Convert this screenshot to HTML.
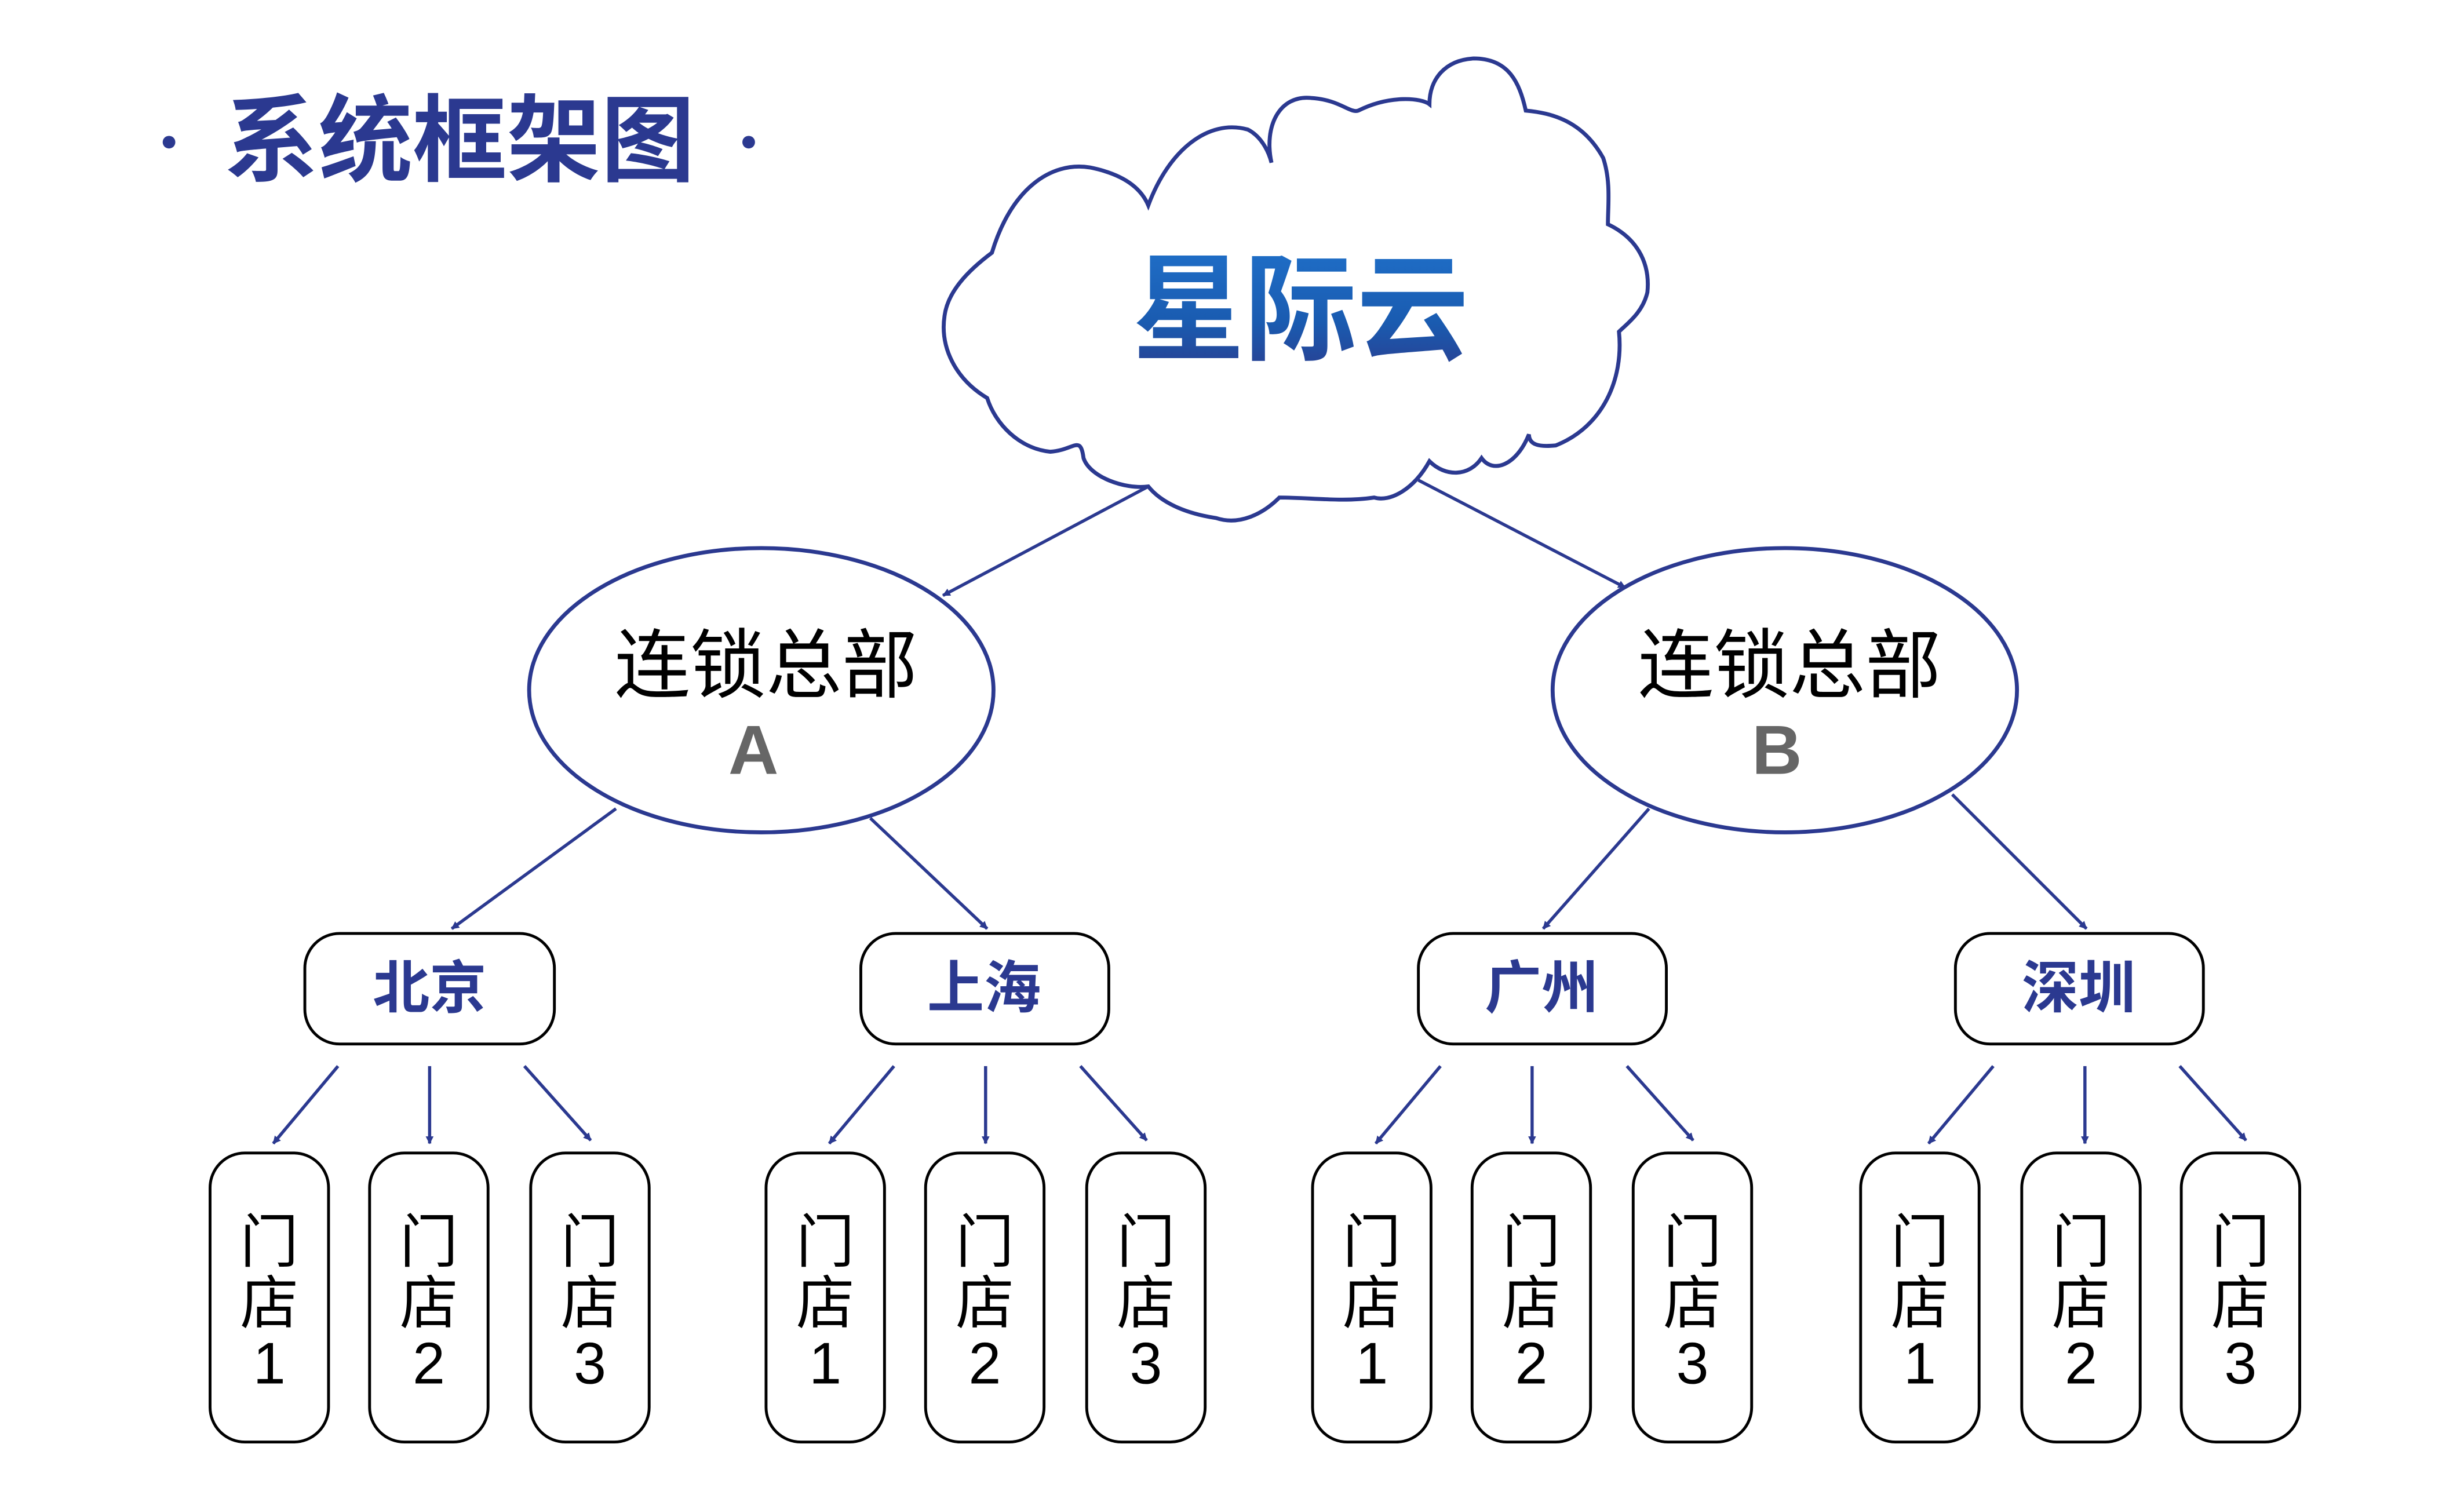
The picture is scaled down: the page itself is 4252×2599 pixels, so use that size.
<!DOCTYPE html>
<html><head><meta charset="utf-8"><style>
html,body{margin:0;padding:0;background:#fff;}
svg{display:block;}
</style></head><body>
<svg width="4252" height="2599" viewBox="0 0 1560 953.5" xmlns="http://www.w3.org/2000/svg">
<defs>
<marker id="ah" viewBox="0 0 10 10" refX="9" refY="5" markerWidth="5" markerHeight="5" orient="auto" markerUnits="userSpaceOnUse">
<path d="M0,0 L10,5 L0,10 z" fill="#2b3990"/>
</marker>
<linearGradient id="g" x1="0" y1="0" x2="0" y2="1">
<stop offset="0" stop-color="#1f6fc8"/><stop offset="0.6" stop-color="#1a5bb0"/><stop offset="1" stop-color="#2a3d8f"/>
</linearGradient>
</defs>
<g font-family="'Liberation Sans','Noto Sans CJK SC',sans-serif">
<circle cx="107" cy="90" r="4" fill="#2b3990"/>
<circle cx="474" cy="90" r="4" fill="#2b3990"/>
<text x="142" y="110" font-size="60" font-weight="bold" fill="#2b3990" textLength="298" lengthAdjust="spacingAndGlyphs">系统框架图</text>

<path d="M727,308 C712,310 690,302 686,290 C684,275 680,285 665,286 C645,284 630,268 625,252 C605,240 595,220 598,200 C600,185 612,172 628,160 C640,120 665,102 690,106 C710,110 722,118 727,130 C740,95 765,75 790,82 C798,86 803,95 805,103 C800,80 810,60 830,62 C848,63 855,72 860,70 C880,60 900,62 905,66 C905,50 915,38 933,37 C955,37 962,52 966,70 C990,72 1005,82 1015,100 C1020,115 1018,130 1018,142 C1035,150 1045,165 1043,185 C1040,198 1030,205 1025,210 C1028,240 1015,270 985,282 C975,283 968,282 968,275 C960,295 945,300 938,290 C930,302 915,302 905,292 C895,310 880,318 870,315 C850,318 830,315 810,315 C800,325 785,333 770,328 C750,325 735,318 727,308 Z" fill="#fff" stroke="#2b3990" stroke-width="2.5"/>
<text x="717" y="222" font-size="74" font-weight="bold" fill="url(#g)" textLength="213" lengthAdjust="spacingAndGlyphs">星际云</text>

<g stroke="#2b3990" stroke-width="2" fill="none" marker-end="url(#ah)">
<line x1="727" y1="308" x2="597" y2="377"/>
<line x1="898" y1="304" x2="1029" y2="372"/>
<line x1="390" y1="512" x2="286" y2="588"/>
<line x1="551" y1="518" x2="625" y2="588"/>
<line x1="1044" y1="512" x2="977" y2="588"/>
<line x1="1236" y1="503" x2="1321" y2="588"/>
</g>

<ellipse cx="482" cy="437" rx="147" ry="90" fill="#fff" stroke="#2b3990" stroke-width="2.5"/>
<ellipse cx="1130" cy="437" rx="147" ry="90" fill="#fff" stroke="#2b3990" stroke-width="2.5"/>
<text x="485" y="438" font-size="48" fill="#000" text-anchor="middle">连锁总部</text>
<text x="477" y="490" font-size="44" font-weight="bold" fill="#666" text-anchor="middle">A</text>
<text x="1133" y="438" font-size="48" fill="#000" text-anchor="middle">连锁总部</text>
<text x="1125" y="490" font-size="44" font-weight="bold" fill="#666" text-anchor="middle">B</text>

<g fill="#fff" stroke="#000" stroke-width="1.8">
<rect x="193" y="591" width="158" height="70" rx="22"/>
<rect x="545" y="591" width="157" height="70" rx="22"/>
<rect x="898" y="591" width="157" height="70" rx="22"/>
<rect x="1238" y="591" width="157" height="70" rx="22"/>
</g>
<g font-size="36" font-weight="bold" fill="#2b3990" text-anchor="middle">
<text x="272" y="638">北京</text>
<text x="623" y="638">上海</text>
<text x="976" y="638">广州</text>
<text x="1316" y="638">深圳</text>
</g>

<g stroke="#2b3990" stroke-width="2" fill="none" marker-end="url(#ah)">
<line x1="214" y1="675" x2="173" y2="724"/><line x1="272" y1="675" x2="272" y2="724"/><line x1="332" y1="675" x2="374" y2="722"/>
<line x1="566" y1="675" x2="525" y2="724"/><line x1="624" y1="675" x2="624" y2="724"/><line x1="684" y1="675" x2="726" y2="722"/>
<line x1="912" y1="675" x2="871" y2="724"/><line x1="970" y1="675" x2="970" y2="724"/><line x1="1030" y1="675" x2="1072" y2="722"/>
<line x1="1262" y1="675" x2="1221" y2="724"/><line x1="1320" y1="675" x2="1320" y2="724"/><line x1="1380" y1="675" x2="1422" y2="722"/>
</g>

<g fill="#fff" stroke="#000" stroke-width="1.8">
<rect x="133" y="730" width="75" height="183" rx="22"/>
<rect x="234" y="730" width="75" height="183" rx="22"/>
<rect x="336" y="730" width="75" height="183" rx="22"/>
<rect x="485" y="730" width="75" height="183" rx="22"/>
<rect x="586" y="730" width="75" height="183" rx="22"/>
<rect x="688" y="730" width="75" height="183" rx="22"/>
<rect x="831" y="730" width="75" height="183" rx="22"/>
<rect x="932" y="730" width="75" height="183" rx="22"/>
<rect x="1034" y="730" width="75" height="183" rx="22"/>
<rect x="1178" y="730" width="75" height="183" rx="22"/>
<rect x="1280" y="730" width="75" height="183" rx="22"/>
<rect x="1381" y="730" width="75" height="183" rx="22"/>
</g>
<g font-size="37" fill="#000" text-anchor="middle">
<g transform="translate(170.5,0)"><text y="799">门</text><text y="838">店</text><text y="876">1</text></g>
<g transform="translate(271.5,0)"><text y="799">门</text><text y="838">店</text><text y="876">2</text></g>
<g transform="translate(373.5,0)"><text y="799">门</text><text y="838">店</text><text y="876">3</text></g>
<g transform="translate(522.5,0)"><text y="799">门</text><text y="838">店</text><text y="876">1</text></g>
<g transform="translate(623.5,0)"><text y="799">门</text><text y="838">店</text><text y="876">2</text></g>
<g transform="translate(725.5,0)"><text y="799">门</text><text y="838">店</text><text y="876">3</text></g>
<g transform="translate(868.5,0)"><text y="799">门</text><text y="838">店</text><text y="876">1</text></g>
<g transform="translate(969.5,0)"><text y="799">门</text><text y="838">店</text><text y="876">2</text></g>
<g transform="translate(1071.5,0)"><text y="799">门</text><text y="838">店</text><text y="876">3</text></g>
<g transform="translate(1215.5,0)"><text y="799">门</text><text y="838">店</text><text y="876">1</text></g>
<g transform="translate(1317.5,0)"><text y="799">门</text><text y="838">店</text><text y="876">2</text></g>
<g transform="translate(1418.5,0)"><text y="799">门</text><text y="838">店</text><text y="876">3</text></g>
</g>
</g>
</svg>
</body></html>
